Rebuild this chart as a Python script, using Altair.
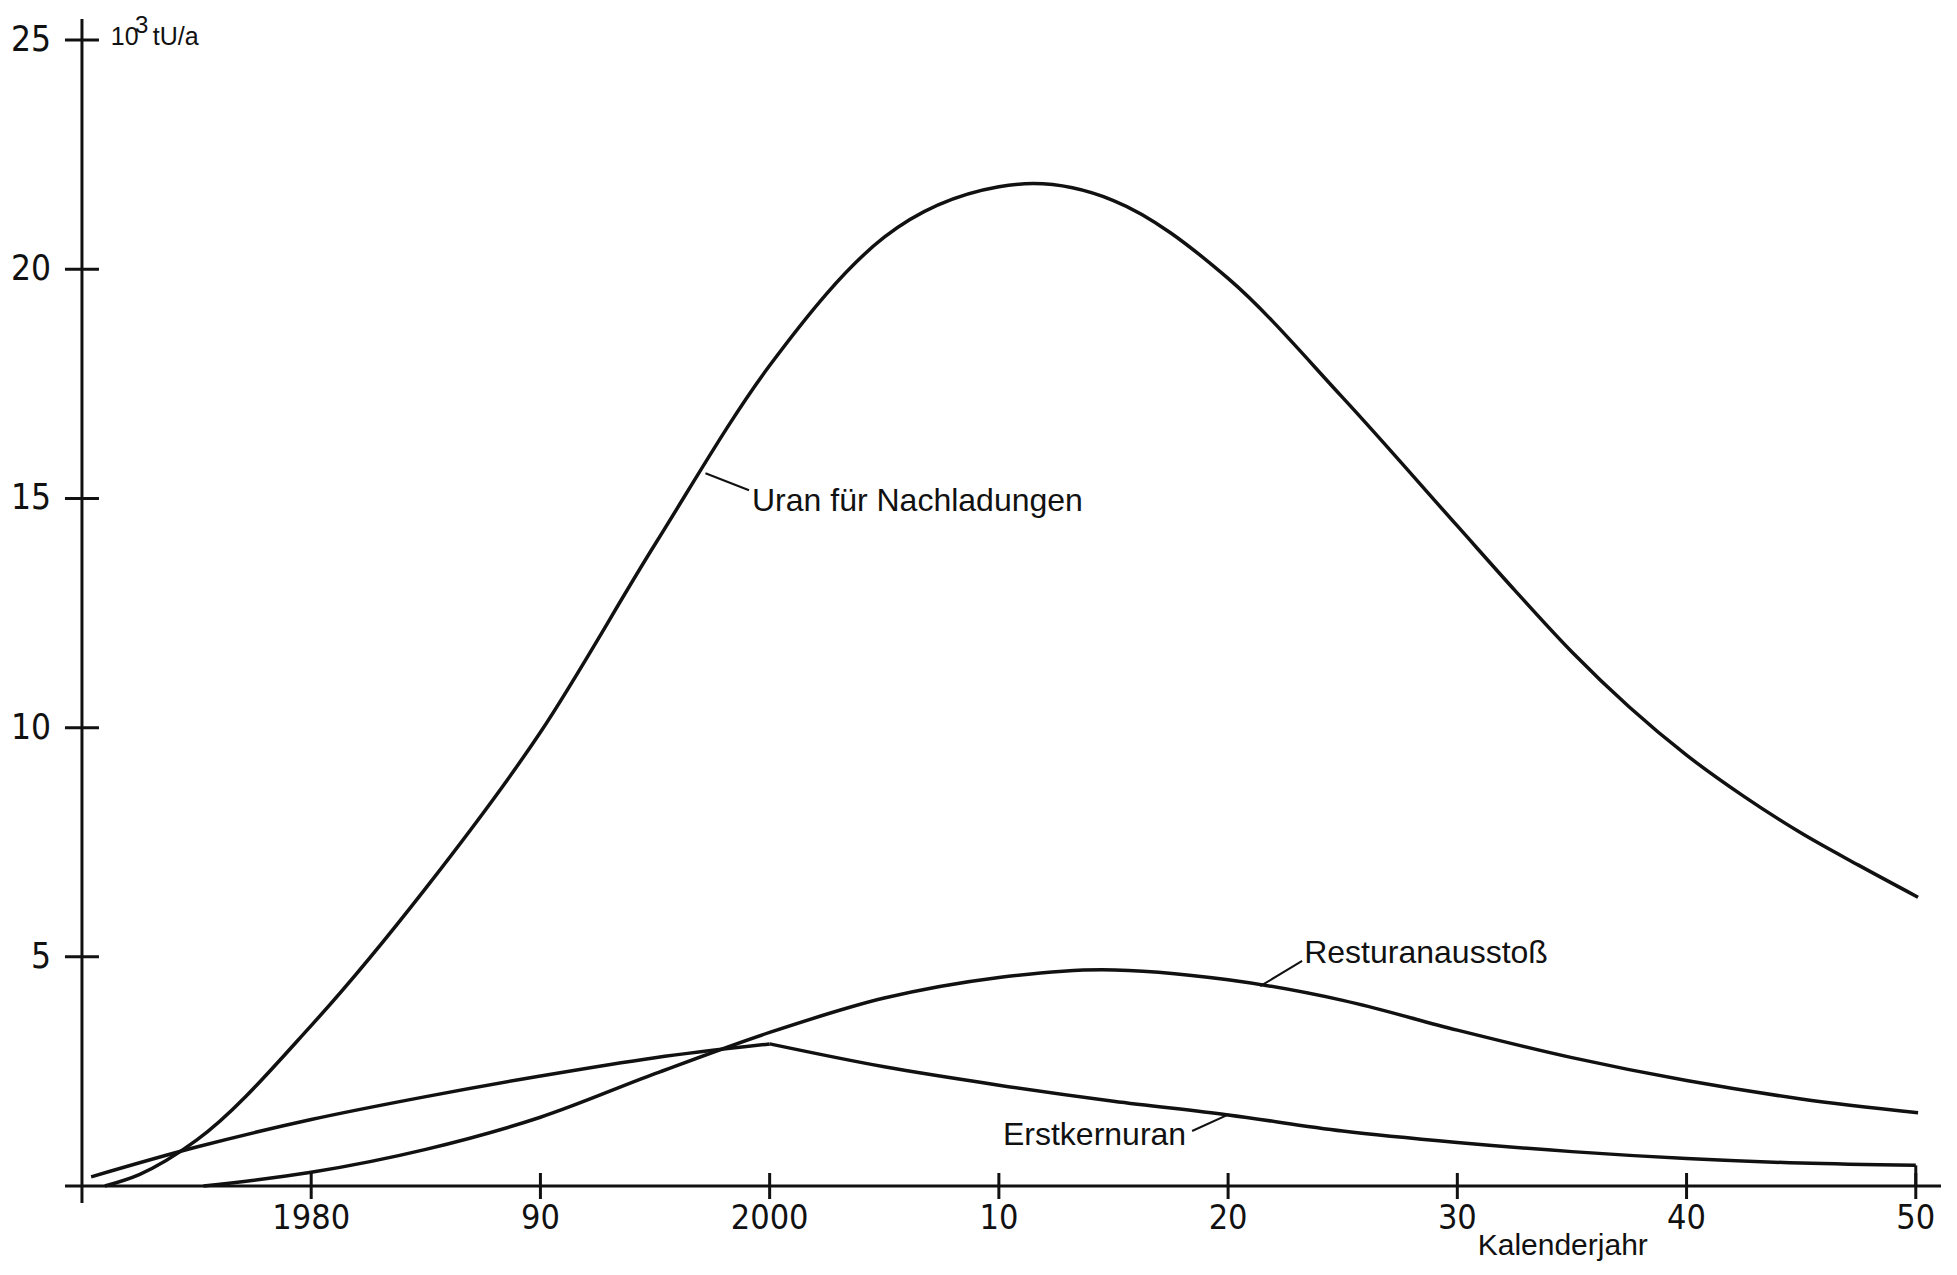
import altair as alt
import pandas as pd

# ---------------- data ----------------
# Uran für Nachladungen (10^3 tU/a)
uran_years = [1971.0, 1972.5, 1975.0, 1980.0, 1985.0, 1990.0, 1995.0, 2000.0, 2005.0, 2010.0,
              2011.5, 2015.0, 2020.0, 2025.0, 2030.0, 2032.5, 2035.0, 2037.5, 2040.0, 2042.5,
              2045.0, 2047.5, 2050.1]
uran_vals = [0.0, 0.25, 1.0, 3.5, 6.5, 9.9, 14.0, 17.9, 20.7, 21.8,
             21.87, 21.5, 19.8, 17.2, 14.4, 13.0, 11.65, 10.45, 9.4, 8.5,
             7.7, 7.0, 6.3]

# Resturanausstoß
rest_years = [1975.3, 1980.0, 1985.0, 1990.0, 1995.0, 2000.0, 2005.0, 2010.0, 2014.5, 2020.0,
              2025.0, 2030.0, 2035.0, 2040.0, 2045.0, 2050.1]
rest_vals = [0.0, 0.3, 0.8, 1.5, 2.45, 3.35, 4.1, 4.55, 4.72, 4.5,
             4.05, 3.4, 2.8, 2.3, 1.9, 1.6]

# Erstkernuran (rising part up to 2000, falling part after 2000)
erst_up_years = [1970.4, 1975.0, 1980.0, 1985.0, 1990.0, 1995.0, 2000.0]
erst_up_vals = [0.2, 0.85, 1.45, 1.95, 2.4, 2.8, 3.1]
erst_down_years = [2000.0, 2005.0, 2010.0, 2015.0, 2020.0, 2025.0, 2030.0, 2035.0, 2040.0, 2045.0, 2050.0]
erst_down_vals = [3.1, 2.6, 2.2, 1.85, 1.55, 1.2, 0.95, 0.75, 0.6, 0.5, 0.45]

x_ticks = [1980, 1990, 2000, 2010, 2020, 2030, 2040, 2050]
x_tick_labels = ["1980", "90", "2000", "10", "20", "30", "40", "50"]
y_ticks = [5, 10, 15, 20, 25]
y_tick_labels = ["5", "10", "15", "20", "25"]

series_names = ["Uran für Nachladungen", "Resturanausstoß", "Erstkernuran"]
label_x = [1999.23, 2023.32, 2018.17]
label_y = [14.72, 4.86, 0.89]
label_align = ["left", "left", "right"]
leader_x1 = [1997.2, 2021.4, 2020.05]
leader_y1 = [15.55, 4.36, 1.57]
leader_x2 = [1999.1, 2023.23, 2018.43]
leader_y2 = [15.18, 4.91, 1.2]

x_min, x_max = 1969.26, 2051.1
y_min, y_max = 0.0, 25.46
x_origin = 1970

# ---------------- tables ----------------
rows = []
for name, yrs, vals in [("Uran", uran_years, uran_vals),
                        ("Rest", rest_years, rest_vals),
                        ("ErstUp", erst_up_years, erst_up_vals),
                        ("ErstDown", erst_down_years, erst_down_vals)]:
    for i, (yy, vv) in enumerate(zip(yrs, vals)):
        rows.append({"series": name, "year": yy, "value": vv, "order": i})
curves = pd.DataFrame(rows)

drop = pd.DataFrame({"year": [erst_down_years[-1]], "value": [erst_down_vals[-1]], "zero": [0.0]})
xt = pd.DataFrame({"year": x_ticks, "label": x_tick_labels, "zero": 0.0})
yt = pd.DataFrame({"value": y_ticks, "label": y_tick_labels, "x0": float(x_origin)})
left_lab = pd.DataFrame({"text": [n for n, a in zip(series_names, label_align) if a == "left"],
                         "x": [v for v, a in zip(label_x, label_align) if a == "left"],
                         "y": [v for v, a in zip(label_y, label_align) if a == "left"]})
right_lab = pd.DataFrame({"text": [n for n, a in zip(series_names, label_align) if a == "right"],
                          "x": [v for v, a in zip(label_x, label_align) if a == "right"],
                          "y": [v for v, a in zip(label_y, label_align) if a == "right"]})
leaders = pd.DataFrame({"x1": leader_x1, "y1": leader_y1, "x2": leader_x2, "y2": leader_y2})
axis_df = pd.DataFrame({"x1": [x_min], "x2": [x_max], "x0": [float(x_origin)], "y0": [0.0], "ytop": [y_max]})

xs = alt.Scale(domain=[x_min, x_max], nice=False, zero=False)
ys = alt.Scale(domain=[y_min, y_max], nice=False, zero=False)


def X(f):
    return alt.X(f, type="quantitative", scale=xs, axis=None)


def Y(f):
    return alt.Y(f, type="quantitative", scale=ys, axis=None)


DIGIT_FONT = "Noto Sans Condensed, DejaVu Sans Condensed, Liberation Sans Narrow, Liberation Sans"
TEXT_FONT = "Liberation Sans"
INK = "#111111"

lines = alt.Chart(curves).mark_line(interpolate="monotone", strokeWidth=3.5, color=INK).encode(
    x=X("year"), y=Y("value"), detail="series:N", order="order:Q",
)

drop_rule = alt.Chart(drop).mark_rule(strokeWidth=3, color=INK).encode(
    x=X("year"), y=Y("value"), y2=alt.Y2("zero")
)

x_axis_line = alt.Chart(axis_df).mark_rule(strokeWidth=3, color=INK).encode(
    x=X("x1"), x2=alt.X2("x2"), y=Y("y0")
)
y_axis_line = alt.Chart(axis_df).mark_rule(strokeWidth=3, color=INK, yOffset=17).encode(
    x=X("x0"), y=Y("y0"), y2=alt.Y2("ytop")
)

x_tick_rules = alt.Chart(xt).mark_rule(strokeWidth=3, color=INK, yOffset=13, y2Offset=-13).encode(
    x=X("year"), y=Y("zero"), y2=alt.Y2("zero")
)
y_tick_rules = alt.Chart(yt).mark_rule(strokeWidth=3, color=INK, xOffset=-17, x2Offset=17).encode(
    x=X("x0"), x2=alt.X2("x0"), y=Y("value")
)

x_tick_text = alt.Chart(xt).mark_text(
    font=DIGIT_FONT, fontSize=34, baseline="top", align="center", dy=16, color=INK
).encode(x=X("year"), y=Y("zero"), text="label:N")

y_tick_text = alt.Chart(yt).mark_text(
    font=DIGIT_FONT, fontSize=35, baseline="middle", align="right", dx=-31, color=INK
).encode(x=X("x0"), y=Y("value"), text="label:N")

unit_main = pd.DataFrame({"t": ["10", "tU/a"], "x": [1971.26, 1973.09], "y": [24.89, 24.89]})
unit_sup = pd.DataFrame({"t": ["3"], "x": [1972.31], "y": [25.15]})
unit_text = alt.Chart(unit_main).mark_text(
    font=TEXT_FONT, fontSize=25, align="left", baseline="alphabetic", color=INK
).encode(x=X("x"), y=Y("y"), text="t:N")
unit_sup_text = alt.Chart(unit_sup).mark_text(
    font=TEXT_FONT, fontSize=24, align="left", baseline="alphabetic", color=INK
).encode(x=X("x"), y=Y("y"), text="t:N")

xtitle_df = pd.DataFrame({"t": ["Kalenderjahr"], "x": [2034.6], "y": [-1.5]})
xtitle = alt.Chart(xtitle_df).mark_text(
    font=TEXT_FONT, fontSize=30, align="center", baseline="alphabetic", color=INK
).encode(x=X("x"), y=Y("y"), text="t:N")

left_labels = alt.Chart(left_lab).mark_text(
    font=TEXT_FONT, fontSize=32, baseline="alphabetic", align="left", color=INK
).encode(x=X("x"), y=Y("y"), text="text:N")
right_labels = alt.Chart(right_lab).mark_text(
    font=TEXT_FONT, fontSize=32, baseline="alphabetic", align="right", color=INK
).encode(x=X("x"), y=Y("y"), text="text:N")

leader_rules = alt.Chart(leaders).mark_rule(strokeWidth=2, color=INK).encode(
    x=X("x1"), y=Y("y1"), x2=alt.X2("x2"), y2=alt.Y2("y2")
)

chart = alt.layer(
    x_axis_line, y_axis_line, x_tick_rules, y_tick_rules,
    lines, drop_rule, leader_rules,
    x_tick_text, y_tick_text, unit_text, unit_sup_text, xtitle, left_labels, right_labels,
).properties(
    width=1876, height=1167,
    padding={"left": 57, "top": 11, "right": 5, "bottom": 81},
    autosize="none",
    background="white",
).configure_view(stroke=None)

chart.save("out.html", embed_options={"renderer": "svg", "actions": False})
